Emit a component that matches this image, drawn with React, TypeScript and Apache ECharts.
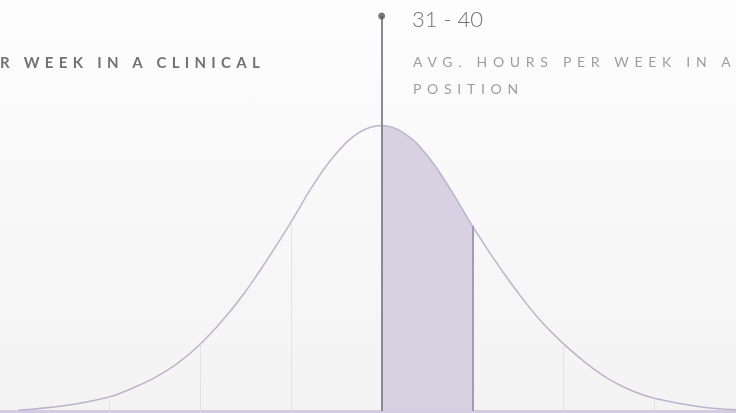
import React, { useEffect, useRef } from "react";
import * as echarts from "echarts";

// curve samples (x in grid units, 0 = centre line; y = relative density, peak 100)
const curveX = [-4, -3.5, -3, -2.75, -2.5, -2.25, -2, -1.75, -1.5, -1.25, -1, -0.75, -0.5, -0.25, 0, 0.25, 0.5, 0.75, 1, 1.25, 1.5, 1.75, 2, 2.25, 2.5, 2.75, 3, 3.5, 3.9];
const curveY = [0.3, 1.8, 4.9, 7.9, 11.6, 16.6, 23.3, 31.8, 41.8, 53.5, 66, 79.3, 90.2, 97.5, 100, 97.3, 89.6, 78, 64.8, 52.6, 41.5, 31.6, 23.6, 16.8, 11.2, 7.2, 4.5, 1.5, 0.4];
const gridXs = [-3, -2, -1, 1, 2, 3];
const shadeRange = [0, 1];
const markerX = 0;
const markerTop = 138.4;
const rangeLabel = "31 - 40";
const leftLabel = "R WEEK IN A CLINICAL";
const rightLabel1 = "AVG. HOURS PER WEEK IN A";
const rightLabel2 = "POSITION";

export default function App() {
  const ref = useRef<HTMLDivElement>(null);
  useEffect(() => {
    if (!ref.current) return;
    const chart = echarts.init(ref.current, null, { renderer: "svg" });
    const data = curveX.map((x, i) => [x, curveY[i]]);
    const shade = data.filter((d) => d[0] >= shadeRange[0] && d[0] <= shadeRange[1]);
    const yAt = (x: number) => curveY[curveX.indexOf(x)];
    const font = "Lato, 'Noto Sans', sans-serif";
    chart.setOption({
      animation: false,
      tooltip: { show: false },
      grid: { left: 0, right: 0, top: 0, bottom: 2 },
      xAxis: {
        type: "value",
        min: -4.2,
        max: 3.9,
        axisLine: { show: true, onZero: false, lineStyle: { color: "#d3cbe0", width: 3 } },
        axisTick: { show: false },
        axisLabel: { show: false },
        splitLine: { show: false },
      },
      yAxis: { type: "value", min: 0, max: 144, show: false, splitLine: { show: false } },
      graphic: [
        {
          type: "rect",
          z: -100,
          silent: true,
          shape: { x: 0, y: 0, width: 736, height: 413 },
          style: {
            fill: new echarts.graphic.LinearGradient(0, 0, 0, 1, [
              { offset: 0, color: "#fdfdfd" },
              { offset: 1, color: "#f3f3f4" },
            ]),
          },
        },
        {
          type: "text",
          silent: true,
          style: { x: 0, y: 62, text: leftLabel, font: `bold 15px ${font}`, fill: "#727272", verticalAlign: "middle" },
        },
        {
          type: "text",
          silent: true,
          style: { x: 413, y: 61, text: rightLabel1, font: `14px ${font}`, fill: "#9e9e9e", verticalAlign: "middle" },
        },
        {
          type: "text",
          silent: true,
          style: { x: 413, y: 88, text: rightLabel2, font: `14px ${font}`, fill: "#9e9e9e", verticalAlign: "middle" },
        },
        {
          type: "text",
          silent: true,
          style: { x: 412, y: 18, text: rangeLabel, font: `300 22px ${font}`, fill: "#707070", verticalAlign: "middle" },
        },
      ],
      series: [
        {
          type: "line",
          data: shade,
          smooth: 0.4,
          symbol: "none",
          silent: true,
          lineStyle: { width: 0 },
          areaStyle: { color: "#d8d1e2", opacity: 1 },
          z: 1,
        },
        {
          type: "line",
          data,
          smooth: 0.4,
          symbol: "none",
          silent: true,
          lineStyle: { color: "#bdb3cc", width: 1.5 },
          z: 3,
          markLine: {
            silent: true,
            symbol: "none",
            label: { show: false },
            data: [
              ...gridXs.map((x) => [
                {
                  coord: [x, 0],
                  lineStyle: x === shadeRange[1] ? { color: "#a598bb", width: 2, type: "solid" } : { color: "#e3e3e7", width: 1, type: "solid" },
                },
                { coord: [x, yAt(x)] },
              ]),
              [
                { coord: [markerX, 0], lineStyle: { color: "#8c8891", width: 2, type: "solid" } },
                { coord: [markerX, markerTop] },
              ],
            ],
          },
        },
        {
          type: "scatter",
          data: [[markerX, markerTop]],
          symbol: "circle",
          symbolSize: 7,
          silent: true,
          itemStyle: { color: "#555555" },
          z: 5,
        },
      ],
    });
    const applySpacing = () => {
      const texts = ref.current?.querySelectorAll("text") || [];
      texts.forEach((t: any) => {
        const c = t.textContent || "";
        if (c === leftLabel) t.style.letterSpacing = "5.3px";
        else if (c === rightLabel1 || c === rightLabel2) t.style.letterSpacing = "5.7px";
      });
    };
    applySpacing();
    const raf = requestAnimationFrame(applySpacing);
    return () => {
      cancelAnimationFrame(raf);
      chart.dispose();
    };
  }, []);
  return (
    <div style={{ position: "fixed", left: 0, top: 0, width: 736, height: 413 }}>
      <div ref={ref} style={{ width: 736, height: 413 }} />
    </div>
  );
}
